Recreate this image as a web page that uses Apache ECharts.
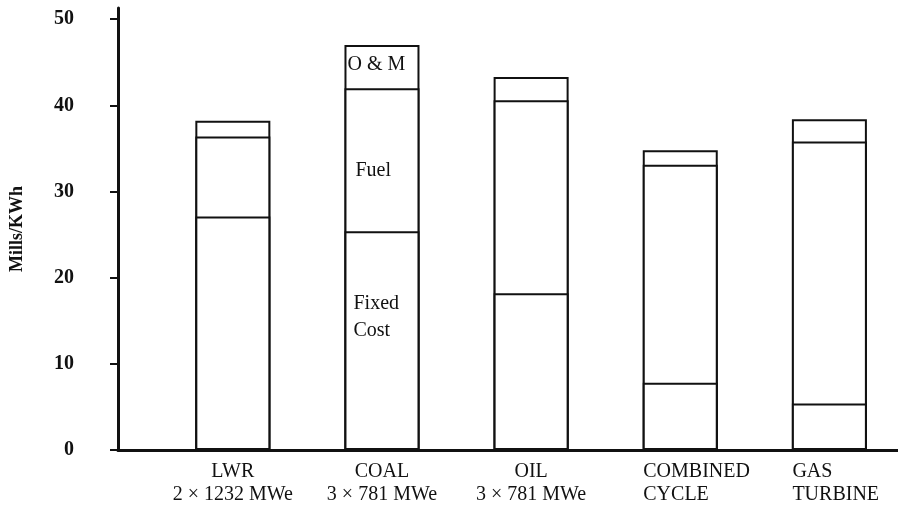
<!DOCTYPE html>
<html>
<head>
<meta charset="utf-8">
<script src="https://cdn.jsdelivr.net/npm/echarts@6/dist/echarts.min.js"></script>
<style>
  html, body { margin: 0; padding: 0; background: #fff; }
  #chart { width: 898px; height: 512px; }
</style>
</head>
<body>
<div id="chart"></div>
<script>
  // plant types (x positions 1..5) and their sizes
  var plantNames = ['LWR', 'COAL', 'OIL', 'COMBINED', 'GAS']
  var plantSizes = ['2 × 1232 MWe', '3 × 781 MWe', '3 × 781 MWe', 'CYCLE', 'TURBINE']
  var plantPos = [1, 2, 3, 4, 5]

  // cost components, Mills/KWh
  var fixedCost = [27.1, 25.4, 18.2, 7.8, 5.4]
  var fuelCost = [9.3, 16.6, 22.4, 25.3, 30.4]
  var omCost = [1.8, 5.0, 2.7, 1.7, 2.6]

  var yTicks = [0, 10, 20, 30, 40, 50]

  var ink = '#111'
  var serif = "'Liberation Serif', 'DejaVu Serif', serif"

  var chart = echarts.init(document.getElementById('chart'))

  // the stack is drawn as overlapping bars: total, then fixed+fuel, then fixed on top
  var withFuel = fixedCost.map(function(v, i) { return v + fuelCost[i] })
  var total = withFuel.map(function(v, i) { return v + omCost[i] })

  function pts(vals) {
    return vals.map(function(v, i) { return [plantPos[i], v] })
  }

  // segment names are only written on the COAL bar
  function withLabel(vals, idx, label) {
    var d = pts(vals)
    d[idx] = { value: d[idx], label: label }
    return d
  }

  var segLabel = {
    show: true,
    color: ink,
    fontFamily: serif,
    fontSize: 20,
    align: 'left',
    verticalAlign: 'top'
  }

  var barStyle = {
    color: '#fff',
    borderColor: ink,
    borderWidth: 2
  }

  chart.setOption({
    animation: false,
    grid: { left: 117, right: 0, top: 8, bottom: 62, containLabel: false },
    xAxis: {
      type: 'value',
      min: 0.23,
      max: 5.46,
      splitLine: { show: false },
      axisTick: { show: false },
      axisLine: { onZero: false, lineStyle: { color: ink, width: 3 } },
      axisLabel: {
        customValues: plantPos,
        margin: 10,
        color: ink,
        fontFamily: serif,
        fontSize: 20,
        lineHeight: 23,
        formatter: function(v) {
          var i = Math.round(v) - 1
          if (i >= 3) {
            return '{l|' + plantNames[i] + '}\n{l|' + plantSizes[i] + '}'
          }
          return plantNames[i] + '\n' + plantSizes[i]
        },
        rich: {
          l: { width: 74, align: 'left', fontFamily: serif, fontSize: 20, color: ink, lineHeight: 23 }
        }
      }
    },
    yAxis: {
      type: 'value',
      min: 0,
      max: 51.3,
      name: 'Mills/KWh',
      nameLocation: 'middle',
      nameGap: 92,
      nameRotate: 90,
      nameTextStyle: {
        color: ink,
        fontFamily: serif,
        fontWeight: 'bold',
        fontSize: 18
      },
      splitLine: { show: false },
      axisLine: { show: true, lineStyle: { color: ink, width: 3 } },
      axisTick: { show: true, customValues: yTicks, length: 8, lineStyle: { color: ink, width: 2 } },
      axisLabel: {
        customValues: yTicks,
        margin: 44,
        color: ink,
        fontFamily: serif,
        fontWeight: 'bold',
        fontSize: 20
      }
    },
    series: [
      {
        name: 'O & M',
        type: 'bar',
        barWidth: 75,
        barGap: '-100%',
        itemStyle: barStyle,
        data: withLabel(total, 1, Object.assign({}, segLabel, {
          position: [3, 10],
          formatter: 'O & M'
        }))
      },
      {
        name: 'Fuel',
        type: 'bar',
        barWidth: 75,
        barGap: '-100%',
        itemStyle: barStyle,
        data: withLabel(withFuel, 1, Object.assign({}, segLabel, {
          position: [11, 73],
          formatter: 'Fuel'
        }))
      },
      {
        name: 'Fixed Cost',
        type: 'bar',
        barWidth: 75,
        barGap: '-100%',
        itemStyle: barStyle,
        data: withLabel(fixedCost, 1, Object.assign({}, segLabel, {
          position: [9, 59],
          lineHeight: 27,
          formatter: 'Fixed\nCost'
        }))
      }
    ]
  })
</script>
</body>
</html>
